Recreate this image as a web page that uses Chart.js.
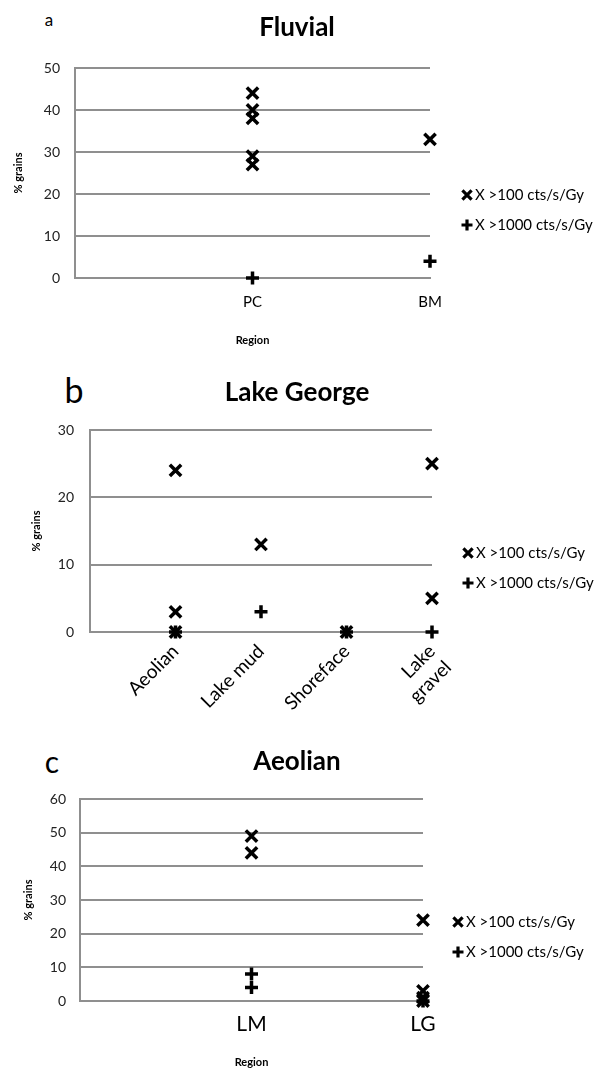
<!DOCTYPE html>
<html>
<head>
<meta charset="utf-8">
<script src="https://cdn.jsdelivr.net/npm/chart.js@4.4.1/dist/chart.umd.min.js"></script>
<style>
  html, body { margin: 0; padding: 0; background: #ffffff; }
  body { width: 594px; height: 1070px; position: relative; overflow: hidden; font-family: Lato, "Open Sans", sans-serif; }
  canvas { position: absolute; left: 0; }
  .tag { position: absolute; transform: translate(-50%, -50%); font-family: Lato, sans-serif; color: #000; line-height: 1; }
</style>
</head>
<body>
<div class="tag" style="left:49px;top:19px;font-size:17px;">a</div>
<div class="tag" style="left:74px;top:390px;font-size:34px;">b</div>
<div class="tag" style="left:52px;top:761px;font-size:30px;">c</div>
<canvas id="chartA" width="594" height="355" style="top:0px"></canvas>
<canvas id="chartB" width="594" height="365" style="top:355px"></canvas>
<canvas id="chartC" width="594" height="350" style="top:720px"></canvas>
<script>
// ---------- data ----------
const legendLabels = ['X >100 cts/s/Gy', 'X >1000 cts/s/Gy'];

// (a) Fluvial
const fluvialCategories = ['PC', 'BM'];
const fluvialHighCat = ['PC', 'PC', 'PC', 'PC', 'PC', 'BM'];
const fluvialHighVal = [44, 40, 38, 29, 27, 33];
const fluvialVeryHighCat = ['PC', 'BM'];
const fluvialVeryHighVal = [0, 4];
const fluvialYTicks = [0, 10, 20, 30, 40, 50];

// (b) Lake George
const lakeCategories = ['Aeolian', 'Lake mud', 'Shoreface', 'Lake gravel'];
const lakeTickLabels = ['Aeolian', 'Lake mud', 'Shoreface', ['Lake', 'gravel']];
const lakeHighCat = ['Aeolian', 'Aeolian', 'Aeolian', 'Lake mud', 'Shoreface', 'Lake gravel', 'Lake gravel'];
const lakeHighVal = [24, 3, 0, 13, 0, 25, 5];
const lakeVeryHighCat = ['Aeolian', 'Lake mud', 'Shoreface', 'Lake gravel'];
const lakeVeryHighVal = [0, 3, 0, 0];
const lakeYTicks = [0, 10, 20, 30];

// (c) Aeolian
const aeolianCategories = ['LM', 'LG'];
const aeolianHighCat = ['LM', 'LM', 'LG', 'LG', 'LG', 'LG'];
const aeolianHighVal = [49, 44, 24, 3, 1, 0];
const aeolianVeryHighCat = ['LM', 'LM', 'LG'];
const aeolianVeryHighVal = [8, 4, 0];
const aeolianYTicks = [0, 10, 20, 30, 40, 50, 60];

// ---------- helpers ----------
const GRID = '#8f8f8f';
const FONT = 'Lato, "Open Sans", sans-serif';

function toPoints(cats, catList, vals) {
  return cats.map((c, i) => ({ x: catList.indexOf(c) + 1, y: vals[i] }));
}

const sideLegend = {
  id: 'sideLegend',
  afterDraw(chart, args, opts) {
    const ctx = chart.ctx;
    ctx.save();
    ctx.strokeStyle = '#000';
    ctx.fillStyle = '#000';
    ctx.lineWidth = 3.2;
    ctx.lineCap = 'butt';
    chart.data.datasets.forEach((ds, i) => {
      const cx = opts.x, cy = opts.y + i * opts.gap;
      ctx.beginPath();
      if (ds.pointStyle === 'crossRot') {
        const d = 4.6;
        ctx.moveTo(cx - d, cy - d); ctx.lineTo(cx + d, cy + d);
        ctx.moveTo(cx - d, cy + d); ctx.lineTo(cx + d, cy - d);
      } else {
        const d = 5.5;
        ctx.moveTo(cx - d, cy); ctx.lineTo(cx + d, cy);
        ctx.moveTo(cx, cy - d); ctx.lineTo(cx, cy + d);
      }
      ctx.stroke();
      ctx.font = opts.fontSize + 'px ' + FONT;
      ctx.textBaseline = 'middle';
      ctx.textAlign = 'left';
      ctx.fillText(ds.label, cx + opts.textGap, cy);
    });
    ctx.restore();
  }
};

function makeChart(id, cfg) {
  const xLabels = cfg.categories;
  const tickLabels = cfg.tickLabels || cfg.categories;
  return new Chart(document.getElementById(id), {
    type: 'scatter',
    data: {
      datasets: [
        {
          label: legendLabels[0],
          data: toPoints(cfg.highCat, xLabels, cfg.highVal),
          pointStyle: 'crossRot',
          pointRadius: 8,
          pointBorderWidth: 3.5,
          borderColor: '#000',
          backgroundColor: '#000',
          clip: false
        },
        {
          label: legendLabels[1],
          data: toPoints(cfg.veryHighCat, xLabels, cfg.veryHighVal),
          pointStyle: 'cross',
          pointRadius: 6.5,
          pointBorderWidth: 3.5,
          borderColor: '#000',
          backgroundColor: '#000',
          clip: false
        }
      ]
    },
    options: {
      responsive: false,
      animation: false,
      devicePixelRatio: 1,
      layout: { padding: 0 },
      plugins: {
        legend: { display: false },
        tooltip: { enabled: false },
        title: {
          display: true,
          text: cfg.title,
          color: '#000',
          font: { family: FONT, size: cfg.titleSize, weight: 'bold' },
          padding: { top: cfg.titleTop, bottom: cfg.titleBottom }
        },
        sideLegend: cfg.legend
      },
      scales: {
        x: {
          type: 'linear',
          min: 0,
          max: xLabels.length,
          afterBuildTicks(s) { s.ticks = xLabels.map((_, i) => ({ value: i })).concat([{ value: xLabels.length }]); },
          afterFit(s) { s.height = cfg.xHeight; },
          grid: { display: false, drawTicks: false },
          border: { display: true, color: GRID, width: 2 },
          ticks: {
            autoSkip: false,
            color: '#000',
            padding: cfg.xTickPad,
            minRotation: cfg.rotate,
            maxRotation: cfg.rotate,
            font: { family: FONT, size: cfg.xTickSize },
            callback(v) {
              const lab = tickLabels[v - 1];
              return lab === undefined ? '' : lab;
            }
          },
          title: {
            display: !!cfg.xTitle,
            text: cfg.xTitle || '',
            color: '#000',
            font: { family: FONT, size: 11, weight: 'bold' },
            padding: { top: 0, bottom: cfg.xTitlePad || 0 }
          }
        },
        y: {
          type: 'linear',
          min: cfg.yTicks[0],
          max: cfg.yTicks[cfg.yTicks.length - 1],
          afterBuildTicks(s) { s.ticks = cfg.yTicks.map(v => ({ value: v })); },
          afterFit(s) { s.width = cfg.yWidth; },
          grid: { color: GRID, lineWidth: 2, drawTicks: false },
          border: { display: true, color: GRID, width: 2 },
          ticks: {
            color: '#222',
            padding: cfg.yTickPad,
            font: { family: FONT, size: cfg.yTickSize }
          },
          title: {
            display: true,
            text: '% grains',
            color: '#000',
            font: { family: FONT, size: 11, weight: 'bold' },
            padding: { top: cfg.yTitlePad, bottom: 0 }
          }
        },
        spacer: {
          type: 'linear',
          position: 'right',
          min: 0,
          max: 1,
          display: true,
          afterFit(s) { s.width = cfg.rightSpace; },
          grid: { display: false, drawTicks: false },
          border: { display: false },
          ticks: { display: false },
          title: { display: false }
        }
      }
    },
    plugins: [sideLegend]
  });
}

makeChart('chartA', {
  title: 'Fluvial', titleSize: 26, titleTop: 12.4, titleBottom: 24.4,
  categories: fluvialCategories,
  highCat: fluvialHighCat, highVal: fluvialHighVal,
  veryHighCat: fluvialVeryHighCat, veryHighVal: fluvialVeryHighVal,
  yTicks: fluvialYTicks,
  yWidth: 75, yTickPad: 15, yTickSize: 14, yTitlePad: 11.4,
  xHeight: 77, xTickPad: 15, xTickSize: 15, rotate: 0,
  xTitle: 'Region', xTitlePad: 8.4,
  rightSpace: 164,
  legend: { x: 467, y: 195, gap: 30, textGap: 8, fontSize: 15 }
});

makeChart('chartB', {
  title: 'Lake George', titleSize: 26, titleTop: 22.4, titleBottom: 21.4,
  categories: lakeCategories, tickLabels: lakeTickLabels,
  highCat: lakeHighCat, highVal: lakeHighVal,
  veryHighCat: lakeVeryHighCat, veryHighVal: lakeVeryHighVal,
  yTicks: lakeYTicks,
  yWidth: 90, yTickPad: 16, yTickSize: 14, yTitlePad: 29.4,
  xHeight: 88, xTickPad: 8, xTickSize: 19, rotate: 45,
  xTitle: '',
  rightSpace: 162,
  legend: { x: 468, y: 198, gap: 30, textGap: 8, fontSize: 15 }
});

makeChart('chartC', {
  title: 'Aeolian', titleSize: 26, titleTop: 26.4, titleBottom: 21.4,
  categories: aeolianCategories,
  highCat: aeolianHighCat, highVal: aeolianHighVal,
  veryHighCat: aeolianVeryHighCat, veryHighVal: aeolianVeryHighVal,
  yTicks: aeolianYTicks,
  yWidth: 80, yTickPad: 14, yTickSize: 14, yTitlePad: 21.4,
  xHeight: 69, xTickPad: 10.8, xTickSize: 21, rotate: 0,
  xTitle: 'Region', xTitlePad: 1.4,
  rightSpace: 171,
  legend: { x: 458, y: 202, gap: 30, textGap: 8, fontSize: 15 }
});
</script>
</body>
</html>
